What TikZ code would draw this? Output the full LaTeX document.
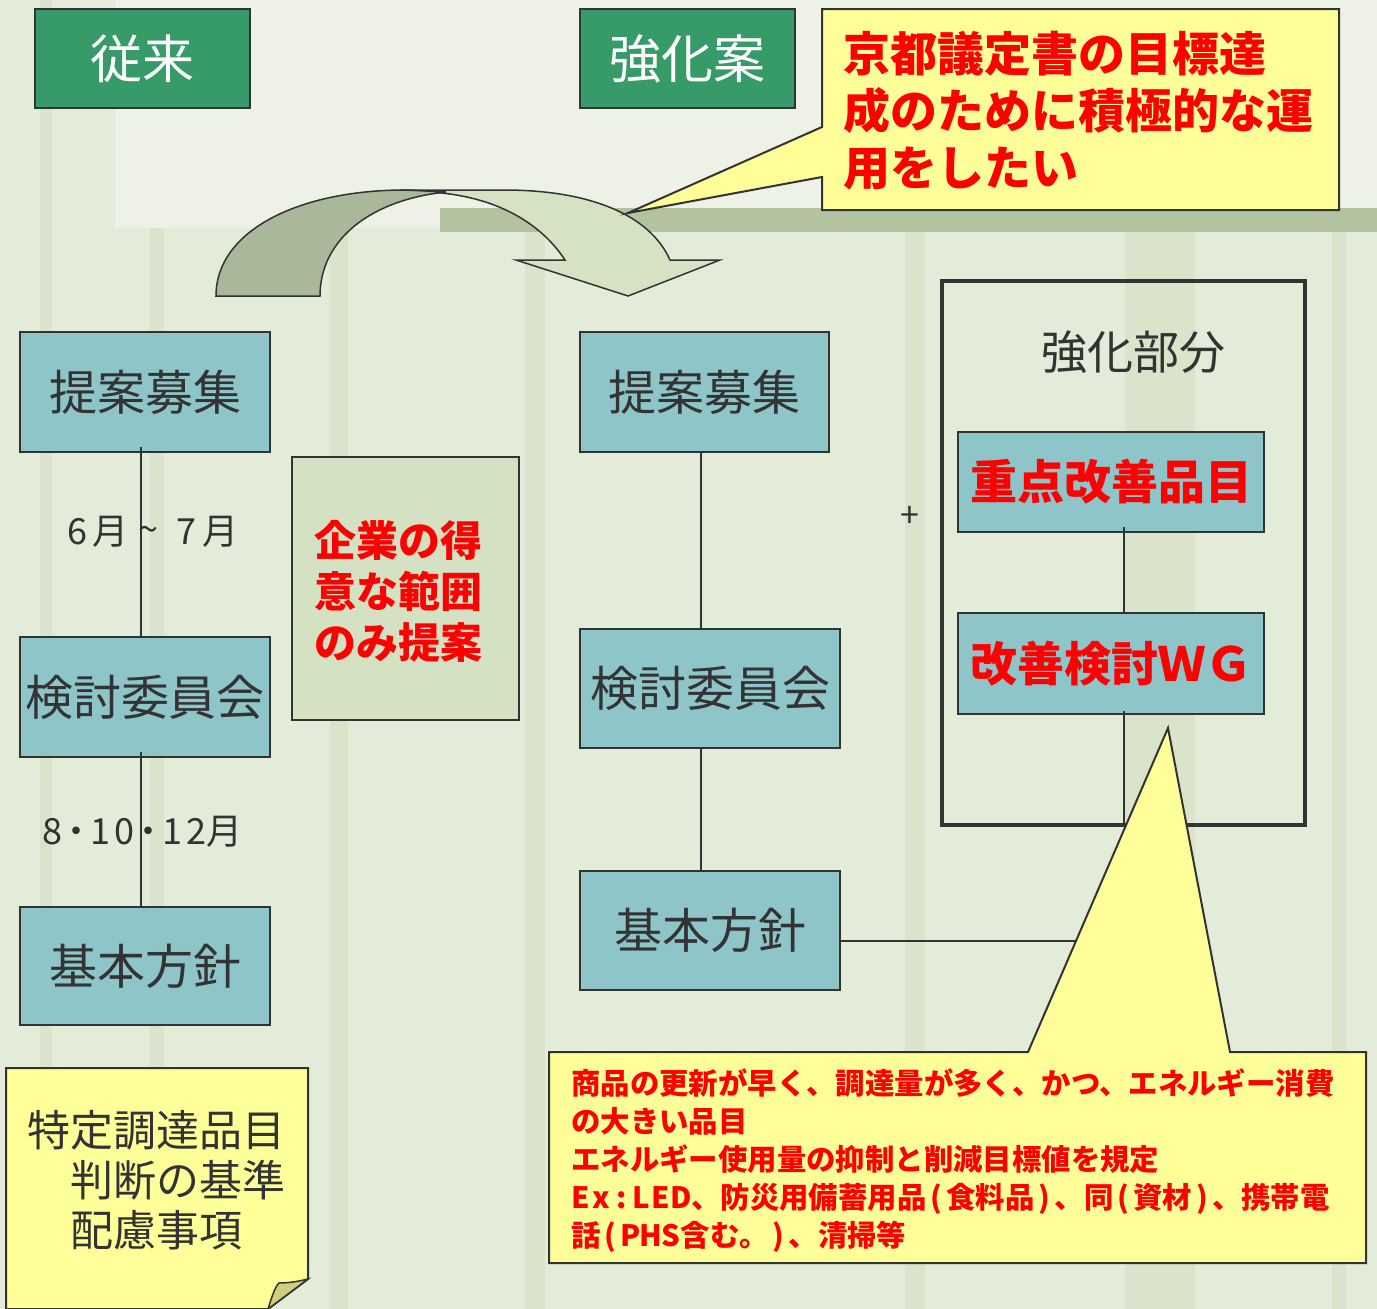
\documentclass[tikz,border=0pt]{standalone}
\usepackage{fontspec}
\newfontfamily\jp{Noto Sans CJK JP}
\definecolor{bgc}{HTML}{E3ECD8}
\definecolor{bglight}{HTML}{EEF2E6}
\definecolor{bandc}{HTML}{B3C3A0}
\definecolor{stripe}{HTML}{D9E4CA}
\definecolor{linec}{HTML}{333333}
\definecolor{hdrgreen}{HTML}{379A69}
\definecolor{tealc}{HTML}{8DC5C9}
\definecolor{notey}{HTML}{FFFF99}
\definecolor{foldc}{HTML}{D2CE80}
\definecolor{redc}{HTML}{FF0000}
\definecolor{arrdark}{HTML}{A9B79A}
\definecolor{arrlight}{HTML}{D6E2C4}
\definecolor{graybox}{HTML}{D5E1C3}
\tikzset{
  hdr/.style={draw=linec, line width=2pt, fill=hdrgreen, text=white, inner sep=0pt,
    minimum width=215pt, minimum height=99pt, font=\jp\fontsize{52}{56}\selectfont},
  tbox/.style={draw=linec, line width=2pt, fill=tealc, text=linec, inner sep=0pt,
    font=\jp\fontsize{48}{52}\selectfont},
  redbold/.style={text=redc, font=\jp\bfseries\fontsize{47}{50}\selectfont},
  conn/.style={draw=linec, line width=2pt},
  calloutshape/.style={draw=linec, line width=2pt, fill=notey, line join=miter},
  lbl/.style={text=linec, inner sep=0pt, font=\jp\fontsize{36}{40}\selectfont},
}
\newcommand\cwb[2]{\makebox[#1pt]{#2}}
\begin{document}
\begin{tikzpicture}[x=1pt,y=-1pt]
\useasboundingbox (0,0) rectangle (1377,1309);
% background
\fill[bgc] (0,0) rectangle (1377,1309);
\foreach \a/\b in {40/52,150/164,330/348,525/545,905/925,1125/1195,1332/1346}
  \fill[stripe] (\a,0) rectangle (\b,1309);
\fill[bglight] (115,0) rectangle (1377,228);
\fill[bandc] (440,208) rectangle (1377,232);
% curved arrow
\filldraw[fill=arrlight, draw=linec, line width=1.5pt, line join=miter]
  (400,190) -- (504,190) .. controls (590,190) and (650,215) .. (670,260)
  -- (720,260) -- (628,296) -- (516,260) -- (565,260)
  .. controls (540,222) and (495,196) .. (430,192) -- cycle;
\filldraw[fill=arrdark, draw=linec, line width=1.5pt, line join=miter]
  (216,296) .. controls (216,230) and (300,190) .. (405,190) -- (446,192)
  .. controls (370,200) and (320,240) .. (320,296) -- cycle;
% headers
\node[hdr] (h1) at (142.5,58.5) {\raisebox{-3pt}{従来}};
\node[hdr] (h2) at (687.5,58.5) {\raisebox{-3pt}{強化案}};
% left column
\node[tbox, minimum width=250pt, minimum height=120pt] (lb1) at (145,392) {提案募集};
\node[tbox, minimum width=250pt, minimum height=120pt] (lb2) at (145,697) {検討委員会};
\node[tbox, minimum width=250pt, minimum height=118pt] (lb3) at (145,966) {基本方針};
\coordinate (lx) at (141,0);
\draw[conn] ([yshift=6pt]lb1.south -| lx) -- (lb2.north -| lx);
\draw[conn] ([yshift=6pt]lb2.south -| lx) -- (lb3.north -| lx);
\node[lbl] (m1) at (149,532) {\cwb{34}{6}\cwb{34}{月}\cwb{40}{\raisebox{2pt}{\textasciitilde}}\cwb{36}{7}\cwb{34}{月}};
\node[lbl] (m2) at (141,832) {\cwb{24}{8}\cwb{24}{・}\cwb{24}{1}\cwb{24}{0}\cwb{24}{・}\cwb{24}{1}\cwb{24}{2}\cwb{34}{月}};
% red box
\node[draw=linec, line width=2pt, fill=graybox, minimum width=227pt, minimum height=263pt, inner sep=0pt] (rbx) at (405.5,588.5) {};
\node[redbold, font=\jp\bfseries\fontsize{42}{51}\selectfont, align=left, anchor=west, inner sep=0pt] (rbt) at (314,591) {企業の得\\意な範囲\\のみ提案};
% middle column
\node[tbox, minimum width=249pt, minimum height=120pt] (mb1) at (704.5,392) {提案募集};
\node[tbox, minimum width=260pt, minimum height=119pt] (mb2) at (710,688.5) {検討委員会};
\node[tbox, minimum width=260pt, minimum height=119pt] (mb3) at (710,930.5) {基本方針};
\coordinate (mx) at (701,0);
\draw[conn] (mb1.south -| mx) -- (mb2.north -| mx);
\draw[conn] (mb2.south -| mx) -- (mb3.north -| mx);
\coordinate (hl) at (1100,941);
\draw[conn] ([xshift=-2pt]mb3.east |- hl) -- (hl);
\node[lbl, font=\jp\fontsize{34}{36}\selectfont] (plus) at (910,517) {+};
% right frame
\node[draw=linec, line width=4.5pt, minimum width=363pt, minimum height=544pt, inner sep=0pt] (fr) at (1123.5,553) {};
\node[lbl, font=\jp\fontsize{46}{50}\selectfont] (frt) at (1133,352) {強化部分};
\node[tbox, minimum width=306pt, minimum height=100pt, redbold] (rb1) at (1111,482) {重点改善品目};
\node[tbox, minimum width=306pt, minimum height=101pt, redbold] (rb2) at (1111,663.5) {改善検討ＷＧ};
\coordinate (rx) at (1124,0);
\draw[conn] ([yshift=6pt]rb1.south -| rx) -- (rb2.north -| rx);
\draw[conn] ([yshift=4pt]rb2.south -| rx) -- (fr.south -| rx);
% top callout
\draw[calloutshape] (822,9) -- (1339,9) -- (1339,210) -- (822,210) -- (822,177) -- (628,213) -- (822,127) -- cycle;
\node[redbold, align=left, anchor=west, inner sep=0pt, font=\jp\bfseries\fontsize{47}{57}\selectfont] (ct) at (843,111) {京都議定書の目標達\\成のために積極的な運\\用をしたい};
% bottom callout
\draw[calloutshape] (549,1052) -- (1028,1052) -- (1168,728) -- (1230,1052) -- (1366,1052) -- (1366,1263) -- (549,1263) -- cycle;
\node[redbold, align=left, anchor=west, inner sep=0pt, font=\jp\bfseries\fontsize{29.4}{38}\selectfont] (cb) at (571,1161)
 {商品の更新が早く、調達量が多く、かつ、エネルギー消費\\
  の大きい品目\\
  エネルギー使用量の抑制と削減目標値を規定\\
  \cwb{20}{E}\cwb{20}{x}\cwb{20}{:}\cwb{20}{L}\cwb{20}{E}\cwb{20}{D}、防災用備蓄用品\cwb{20}{(}食料品\cwb{20}{)}、同\cwb{20}{(}資材\cwb{20}{)}、携帯電\\
  話\cwb{20}{(}\cwb{20}{P}\cwb{20}{H}\cwb{20}{S}含む。\cwb{20}{)}、清掃等};
% note
\filldraw[fill=notey, draw=linec, line width=2pt, line join=miter]
  (6,1068) -- (308,1068) -- (308,1279) -- (268,1309) -- (6,1309) -- cycle;
\filldraw[fill=foldc, draw=linec, line width=1.5pt]
  (268,1309) .. controls (272,1296) and (275,1287) .. (279,1283)
  .. controls (290,1283) and (300,1281) .. (308,1279) -- cycle;
\node[lbl, font=\jp\fontsize{43}{50}\selectfont, align=left, anchor=west] (nt) at (27,1180)
 {特定調達品目\\\hspace*{43pt}判断の基準\\\hspace*{43pt}配慮事項};
\end{tikzpicture}
\end{document}
